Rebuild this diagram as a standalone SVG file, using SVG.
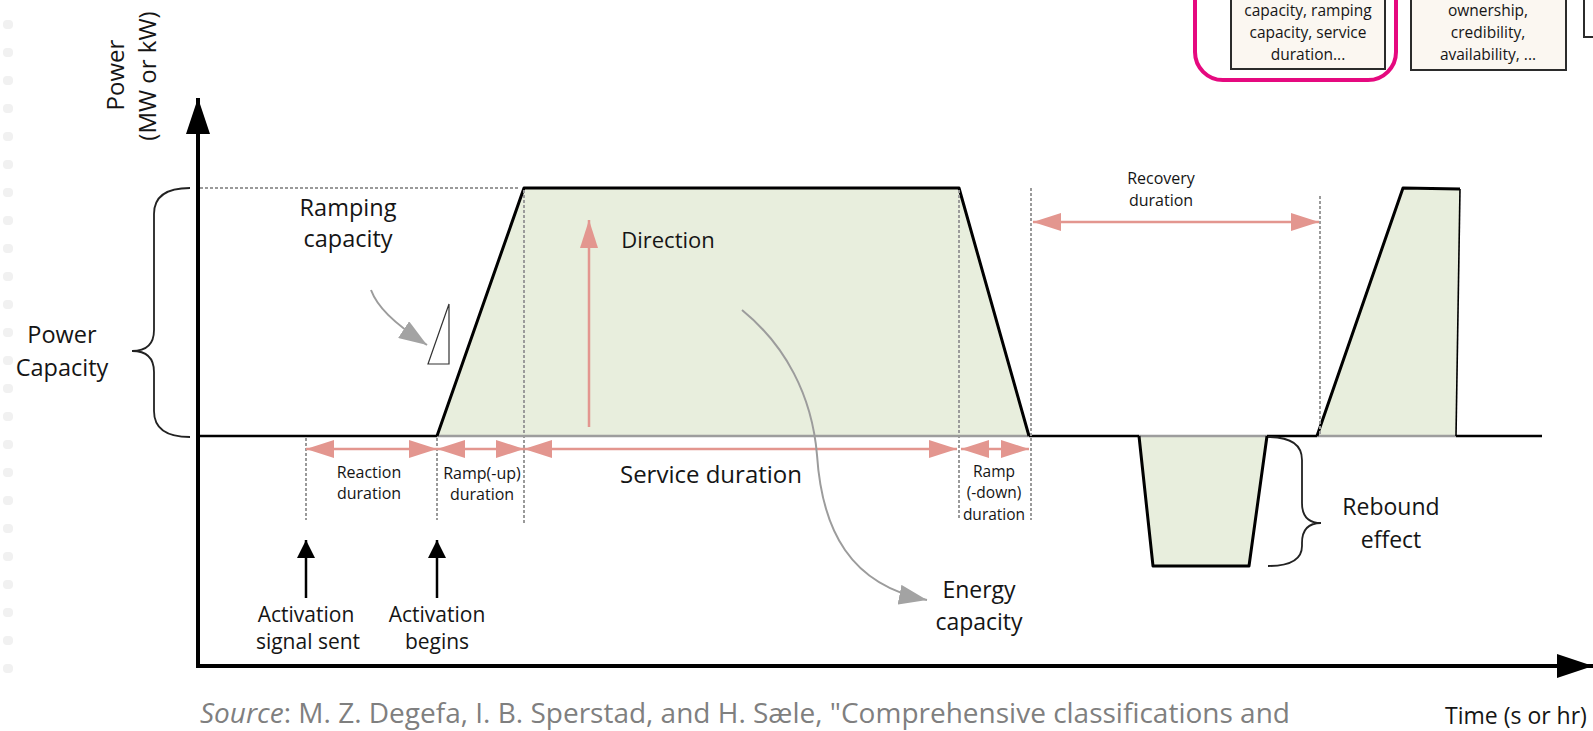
<svg xmlns="http://www.w3.org/2000/svg" width="1593" height="731" viewBox="0 0 1593 731">
  <defs>
    <style>
      text { font-family: "Open Sans", "Noto Sans", sans-serif; fill: #151515; }
      .mid { text-anchor: middle; }
      .lbl { font-size: 23.5px; }
      .sm { font-size: 16px; }
      .box { font-size: 15.5px; }
      .area { fill: #e8eedd; stroke: none; }
      .edge { fill: none; stroke: #000; stroke-width: 3; stroke-linejoin: round; }
      .base-k { stroke: #000; stroke-width: 2.5; }
      .base-g { stroke: #9d9d9d; stroke-width: 2.5; }
      .guide { stroke: #9a9a9a; stroke-width: 2; stroke-dasharray: 3 2; fill: none; }
      .axis { stroke: #000; stroke-width: 4; fill: none; }
      .span { stroke: #e3968f; stroke-width: 2.5; fill: none; }
      .pointer { stroke: #9c9c9c; stroke-width: 2; fill: none; }
      .brace { stroke: #222; stroke-width: 1.8; fill: none; }
      .tag { fill: #fbf7f1; stroke: #2b2b2b; stroke-width: 2; }
    </style>
    <marker id="salmonHead" viewBox="0 0 28 18" refX="28" refY="9" markerWidth="28" markerHeight="18" markerUnits="userSpaceOnUse" orient="auto-start-reverse">
      <path d="M0,0 L28,9 L0,18 z" fill="#e3968f"/>
    </marker>
    <marker id="greyHead" viewBox="0 0 28 20" refX="28" refY="10" markerWidth="28" markerHeight="20" markerUnits="userSpaceOnUse" orient="auto">
      <path d="M0,0 L28,10 L0,20 z" fill="#a3a3a3"/>
    </marker>
    <marker id="axisHead" viewBox="0 0 36 24" refX="36" refY="12" markerWidth="36" markerHeight="24" markerUnits="userSpaceOnUse" orient="auto">
      <path d="M0,0 L36,12 L0,24 z" fill="#000"/>
    </marker>
    <marker id="eventHead" viewBox="0 0 18 18" refX="18" refY="9" markerWidth="18" markerHeight="18" markerUnits="userSpaceOnUse" orient="auto">
      <path d="M0,0 L18,9 L0,18 z" fill="#000"/>
    </marker>
  </defs>

  <rect width="1593" height="731" fill="#ffffff"/>

  <!-- faint texture along the left margin -->
  <g id="margin-texture" fill="#f1f1f1">
    <rect x="3" y="20" width="10" height="9" rx="4"/>
    <rect x="3" y="48" width="10" height="9" rx="4"/>
    <rect x="3" y="76" width="10" height="9" rx="4"/>
    <rect x="3" y="104" width="10" height="9" rx="4"/>
    <rect x="3" y="132" width="10" height="9" rx="4"/>
    <rect x="3" y="160" width="10" height="9" rx="4"/>
    <rect x="3" y="188" width="10" height="9" rx="4"/>
    <rect x="3" y="216" width="10" height="9" rx="4"/>
    <rect x="3" y="244" width="10" height="9" rx="4"/>
    <rect x="3" y="272" width="10" height="9" rx="4"/>
    <rect x="3" y="300" width="10" height="9" rx="4"/>
    <rect x="3" y="328" width="10" height="9" rx="4"/>
    <rect x="3" y="356" width="10" height="9" rx="4"/>
    <rect x="3" y="384" width="10" height="9" rx="4"/>
    <rect x="3" y="412" width="10" height="9" rx="4"/>
    <rect x="3" y="440" width="10" height="9" rx="4"/>
    <rect x="3" y="468" width="10" height="9" rx="4"/>
    <rect x="3" y="496" width="10" height="9" rx="4"/>
    <rect x="3" y="524" width="10" height="9" rx="4"/>
    <rect x="3" y="552" width="10" height="9" rx="4"/>
    <rect x="3" y="580" width="10" height="9" rx="4"/>
    <rect x="3" y="608" width="10" height="9" rx="4"/>
    <rect x="3" y="636" width="10" height="9" rx="4"/>
    <rect x="3" y="664" width="10" height="9" rx="4"/>
  </g>

  <!-- top-right attribute boxes -->
  <g id="box-technical">
    <rect x="1195" y="-40" width="201" height="120" rx="28" fill="none" stroke="#e5097f" stroke-width="4"/>
    <rect class="tag" x="1231" y="-10" width="154" height="79"/>
    <text class="box mid" x="1308" y="16">capacity, ramping</text>
    <text class="box mid" x="1308" y="38">capacity, service</text>
    <text class="box mid" x="1308" y="60">duration...</text>
  </g>
  <g id="box-other">
    <rect class="tag" x="1411" y="-10" width="155" height="80"/>
    <text class="box mid" x="1488" y="16">ownership,</text>
    <text class="box mid" x="1488" y="38">credibility,</text>
    <text class="box mid" x="1488" y="60">availability, ...</text>
  </g>
  <g id="box-edge">
    <rect x="1584" y="-10" width="30" height="47" fill="#ffffff" stroke="#2b2b2b" stroke-width="2"/>
  </g>

  <!-- shaded response areas -->
  <g id="response-main">
    <polygon class="area" points="437,436 524,188 959,188 1029,436"/>
    <line class="base-g" x1="437" y1="436" x2="1029" y2="436"/>
    <polyline class="edge" points="437,436 524,188 959,188 1029,436"/>
  </g>
  <g id="response-rebound">
    <polygon class="area" points="1139,436 1153,566 1249,566 1267,436"/>
    <line class="base-g" x1="1139" y1="436" x2="1267" y2="436"/>
    <polyline class="edge" points="1139,436 1153,566 1249,566 1267,436"/>
  </g>
  <g id="response-next">
    <polygon class="area" points="1317,436 1403,188 1460,189 1456,436"/>
    <line class="base-g" x1="1317" y1="436" x2="1456" y2="436"/>
    <polyline class="edge" points="1317,436 1403,188 1460,189"/>
    <line x1="1460" y1="189" x2="1456" y2="436" stroke="#000" stroke-width="1.6"/>
  </g>

  <!-- guides, baseline, axes and arrows -->
  <g id="connectors">
    <line class="base-k" x1="198" y1="436" x2="437" y2="436"/>
    <line class="base-k" x1="1029" y1="436" x2="1139" y2="436"/>
    <line class="base-k" x1="1267" y1="436" x2="1317" y2="436"/>
    <line class="base-k" x1="1456" y1="436" x2="1542" y2="436"/>

    <line class="guide" x1="200" y1="188" x2="520" y2="188"/>
    <line class="guide" x1="306" y1="438" x2="306" y2="520"/>
    <line class="guide" x1="437" y1="438" x2="437" y2="520"/>
    <line class="guide" x1="524" y1="190" x2="524" y2="523"/>
    <line class="guide" x1="959" y1="190" x2="959" y2="520"/>
    <line class="guide" x1="1031" y1="188" x2="1031" y2="520"/>
    <line class="guide" x1="1320" y1="196" x2="1320" y2="434"/>

    <line class="axis" x1="198" y1="668" x2="198" y2="98" marker-end="url(#axisHead)"/>
    <line class="axis" x1="196" y1="666" x2="1593" y2="666" marker-end="url(#axisHead)"/>

    <line class="span" x1="306" y1="449" x2="437" y2="449" marker-start="url(#salmonHead)" marker-end="url(#salmonHead)"/>
    <line class="span" x1="437" y1="449" x2="524" y2="449" marker-start="url(#salmonHead)" marker-end="url(#salmonHead)"/>
    <line class="span" x1="524" y1="449" x2="957" y2="449" marker-start="url(#salmonHead)" marker-end="url(#salmonHead)"/>
    <line class="span" x1="961" y1="449" x2="1029" y2="449" marker-start="url(#salmonHead)" marker-end="url(#salmonHead)"/>
    <line class="span" x1="1033" y1="222" x2="1319" y2="222" marker-start="url(#salmonHead)" marker-end="url(#salmonHead)"/>
    <line class="span" x1="589" y1="427" x2="589" y2="220" marker-end="url(#salmonHead)"/>

    <line x1="306" y1="598" x2="306" y2="540" stroke="#000" stroke-width="2.5" marker-end="url(#eventHead)"/>
    <line x1="437" y1="598" x2="437" y2="540" stroke="#000" stroke-width="2.5" marker-end="url(#eventHead)"/>

    <path class="pointer" d="M371,290 C377,306 392,322 427,345" marker-end="url(#greyHead)"/>
    <path class="pointer" d="M742,310 C785,345 812,395 817,455 C822,530 850,585 927,600" marker-end="url(#greyHead)"/>

    <path class="brace" d="M190,188 Q154,188 154,214 L154,330 Q154,351 132,351 Q154,351 154,372 L154,411 Q154,437 190,437"/>
    <path class="brace" d="M1268,437 Q1302,437 1302,460 L1302,503 Q1302,523 1321,523 Q1302,523 1302,543 L1302,546 Q1302,566 1268,566"/>
  </g>

  <!-- ramp slope symbol -->
  <g id="slope-symbol">
    <polygon points="449,304 449,364 428,364" fill="#ffffff" stroke="#333" stroke-width="1.2"/>
  </g>

  <!-- labels -->
  <g id="axis-labels">
    <text class="mid" font-size="24" transform="translate(124,75) rotate(-90)">Power</text>
    <text class="mid" font-size="24" transform="translate(156,76) rotate(-90)">(MW or kW)</text>
    <text font-size="23" x="1445" y="724">Time (s or hr)</text>
  </g>
  <g id="label-power-capacity">
    <text class="lbl mid" x="62" y="343">Power</text>
    <text class="lbl mid" x="62" y="376">Capacity</text>
  </g>
  <g id="label-ramping">
    <text class="lbl mid" x="348" y="216">Ramping</text>
    <text class="lbl mid" x="348" y="247">capacity</text>
  </g>
  <g id="label-direction">
    <text class="mid" font-size="22" x="668" y="248">Direction</text>
  </g>
  <g id="label-reaction">
    <text class="sm mid" x="369" y="478">Reaction</text>
    <text class="sm mid" x="369" y="499">duration</text>
  </g>
  <g id="label-ramp-up">
    <text class="sm mid" x="482" y="479">Ramp(-up)</text>
    <text class="sm mid" x="482" y="500">duration</text>
  </g>
  <g id="label-service">
    <text class="mid" font-size="24" x="711" y="483">Service duration</text>
  </g>
  <g id="label-ramp-down">
    <text class="mid" font-size="15.5" x="994" y="477">Ramp</text>
    <text class="mid" font-size="15.5" x="994" y="498">(-down)</text>
    <text class="mid" font-size="15.5" x="994" y="520">duration</text>
  </g>
  <g id="label-recovery">
    <text class="sm mid" x="1161" y="184">Recovery</text>
    <text class="sm mid" x="1161" y="206">duration</text>
  </g>
  <g id="label-rebound">
    <text class="mid" font-size="23" x="1391" y="515">Rebound</text>
    <text class="mid" font-size="23" x="1391" y="548">effect</text>
  </g>
  <g id="label-energy">
    <text class="mid" font-size="23" x="979" y="598">Energy</text>
    <text class="mid" font-size="23" x="979" y="630">capacity</text>
  </g>
  <g id="label-signal">
    <text class="mid" font-size="21" x="306" y="622">Activation</text>
    <text class="mid" font-size="21" x="308" y="649">signal sent</text>
  </g>
  <g id="label-begins">
    <text class="mid" font-size="21" x="437" y="622">Activation</text>
    <text class="mid" font-size="21" x="437" y="649">begins</text>
  </g>

  <!-- citation line -->
  <g id="citation">
    <text x="200" y="723" font-size="28" style="fill:#7f7f7f"><tspan font-style="italic">Source</tspan>: M. Z. Degefa, I. B. Sperstad, and H. Sæle, "Comprehensive classifications and</text>
  </g>
</svg>
